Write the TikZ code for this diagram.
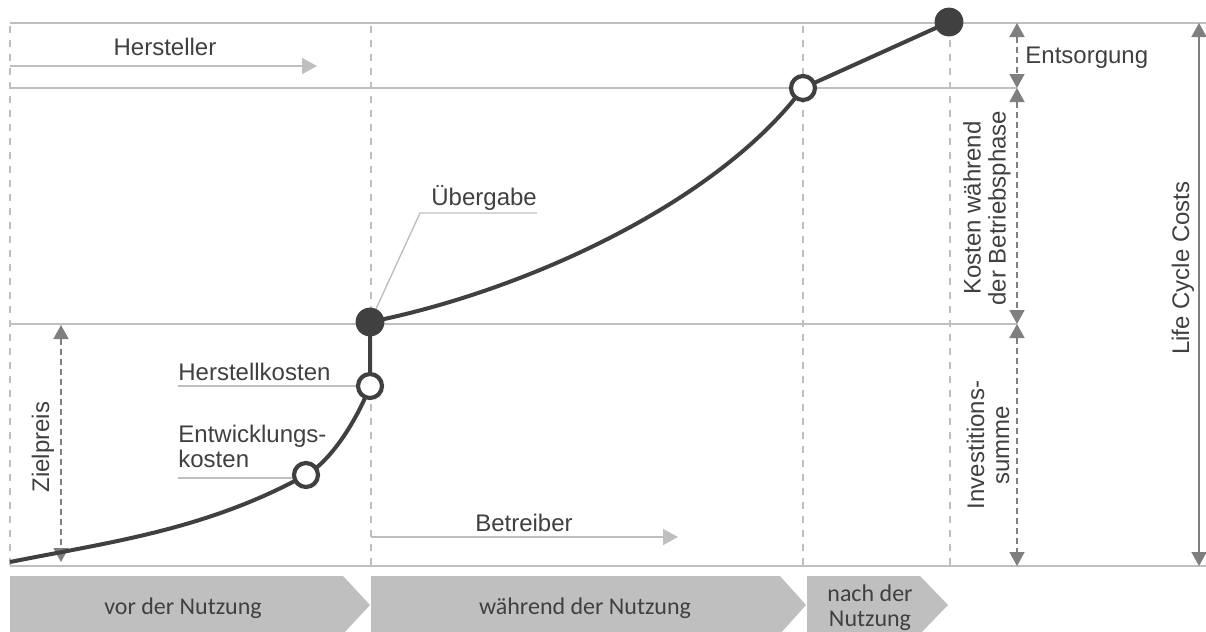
\documentclass[tikz,border=0pt]{standalone}
\usepackage{fontspec}
\setmainfont{Liberation Sans}
\newfontfamily\tagfont{Liberation Sans}
\newfontfamily\phasefont{Carlito}
\usetikzlibrary{arrows.meta}

\definecolor{gridgray}{HTML}{BFBFBF}
\definecolor{dimgray}{HTML}{7F7F7F}
\definecolor{curvegray}{HTML}{404040}

\tikzset{
  level line/.style={draw=gridgray, line width=0.8pt},
  phase line/.style={draw=gridgray, line width=0.8pt, dash pattern=on 3.5pt off 3.5pt},
  role arrow/.style={draw=gridgray, line width=0.8pt, -{Triangle[width=8pt,length=7.5pt]}},
  dim arrow/.style={draw=dimgray, line width=0.8pt, dash pattern=on 3pt off 2pt,
    {Triangle[width=7.5pt,length=7pt]}-{Triangle[width=7.5pt,length=7pt]}},
  lcc arrow/.style={draw=dimgray, line width=0.8pt,
    {Triangle[width=7.5pt,length=7pt]}-{Triangle[width=7.5pt,length=7pt]}},
  cost curve/.style={draw=curvegray, line width=2pt},
  open dot/.style={circle, draw=curvegray, line width=2.1pt, fill=white, minimum size=12pt, inner sep=0pt},
  full dot/.style={circle, fill=curvegray, minimum size=14.4pt, inner sep=0pt},
  leader/.style={draw=gridgray, line width=0.7pt},
  tag/.style={text=curvegray, font=\tagfont\fontsize{12}{12.5}\selectfont, inner sep=0pt},
  phase/.style={fill=gridgray},
  phase text/.style={text=curvegray, font=\phasefont\fontsize{12}{12.5}\selectfont, align=center, inner sep=0pt}
}

\begin{document}
\begin{tikzpicture}[x=0.5pt, y=-0.5pt]
  \useasboundingbox (0,0) rectangle (1206,632);

  % Grid
  \draw[level line] (10,23) -- (1206,23);
  \draw[level line] (10,88) -- (1017,88);
  \draw[level line] (10,324) -- (1017,324);
  \draw[level line] (10,566) -- (1206,566);
  \foreach \x in {10,371,803,950}
    \draw[phase line] (\x,26) -- (\x,566);

  % Phases
  \fill[phase] (10,576) -- (343,576) -- (370,605) -- (343,634) -- (10,634) -- cycle;
  \fill[phase] (371,576) -- (780,576) -- (806,605) -- (780,634) -- (371,634) -- cycle;
  \fill[phase] (807,576) -- (920,576) -- (948,605) -- (920,634) -- (807,634) -- cycle;
  \node (vor) [phase text, anchor=base] at (183,614) {vor der Nutzung};
  \node (waehrend) [phase text, anchor=base] at (585,614) {während der Nutzung};
  \node (nach) [phase text] at (870,608) {nach der\\Nutzung};

  % Roles
  \coordinate (hsStart) at (10,66);
  \coordinate (hsEnd) at (317,66);
  \coordinate (btStart) at (371,537);
  \coordinate (btEnd) at (678,537);
  \draw[role arrow] (hsStart) -- (hsEnd);
  \draw[role arrow] (btStart) -- (btEnd);
  \node (hersteller) [tag, anchor=base] at (165,55) {Hersteller};
  \node (betreiber) [tag, anchor=base] at (524,531) {Betreiber};

  % Dimensions
  \coordinate (zpTop) at (61,325);
  \coordinate (zpBot) at (61,562);
  \coordinate (entTop) at (1017,23);
  \coordinate (entBot) at (1017,88);
  \coordinate (betTop) at (1017,88);
  \coordinate (betBot) at (1017,324);
  \coordinate (invTop) at (1017,324);
  \coordinate (invBot) at (1017,566);
  \coordinate (lccTop) at (1199,23);
  \coordinate (lccBot) at (1199,566);
  \draw[dim arrow] (zpTop) -- (zpBot);
  \draw[dim arrow] (entTop) -- (entBot);
  \draw[dim arrow] (betTop) -- (betBot);
  \draw[dim arrow] (invTop) -- (invBot);
  \draw[lcc arrow] (lccTop) -- (lccBot);
  \node (zielpreis) [tag, rotate=90] at (43,447) {Zielpreis};
  \node (entsorgung) [tag, anchor=base west] at (1025,63) {Entsorgung};
  \node (betrieb) [tag, rotate=90, align=center] at (987,208) {Kosten während\\der Betriebsphase};
  \node (invest) [tag, rotate=90, align=center] at (988,445) {Investitions-\\summe};
  \node (lcc) [tag, rotate=90] at (1183,268) {Life Cycle Costs};

  % Curve
  \coordinate (p0) at (10,562);
  \coordinate (pEK) at (306,475);
  \coordinate (pHK) at (370,386);
  \coordinate (pUE) at (370,322);
  \coordinate (pBP) at (803,88);
  \coordinate (pEnd) at (949,22);
  \draw[cost curve] (p0) .. controls (110,542) and (206,530) .. (pEK)
    .. controls (331,461) and (357,420) .. (pHK) -- (pUE)
    .. controls (530,290) and (720,200) .. (pBP) -- (pEnd);

  % Leaders
  \node (ueblabel) [tag, anchor=base west] at (431,205) {Übergabe};
  \node (hklabel) [tag, anchor=base west] at (178,380) {Herstellkosten};
  \node (eklabel) [tag, anchor=base west, align=left] at (178,467) {Entwicklungs-\\kosten};
  \coordinate (uebKnick) at (420,213);
  \draw[leader] (pUE) -- (uebKnick) -- (uebKnick -| ueblabel.east);
  \draw[leader] (pHK) -- (pHK -| hklabel.west);
  \draw[leader] (0,478 -| pEK) -- (0,478 -| eklabel.west);

  % Dots
  \node (ek) [open dot] at (pEK) {};
  \node (hk) [open dot] at (pHK) {};
  \node (ueb) [full dot] at (pUE) {};
  \node (bp) [open dot] at (pBP) {};
  \node (ende) [full dot] at (pEnd) {};
\end{tikzpicture}
\end{document}
